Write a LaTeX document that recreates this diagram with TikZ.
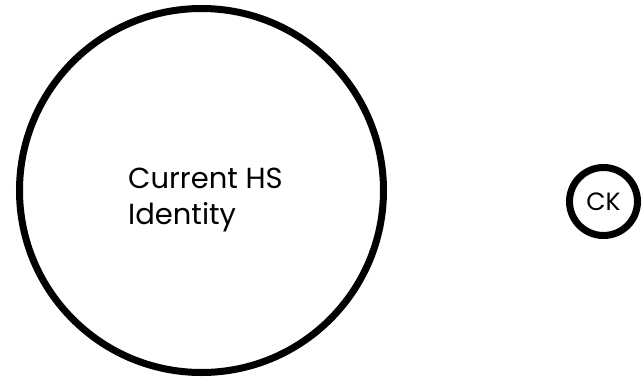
\documentclass[tikz,border=0pt]{standalone}
\usepackage{fontspec}
\setmainfont{Poppins}
\usetikzlibrary{shapes.geometric, positioning}

\begin{document}
\begin{tikzpicture}[
  x=1pt, y=-1pt,
  bigbubble/.style={circle, draw, line width=7pt, minimum size=364pt, inner sep=0pt},
  keybubble/.style={circle, draw, line width=7pt, minimum size=68pt, inner sep=0pt, font=\fontsize{25}{29}\selectfont},
  label text/.style={align=left, font=\fontsize{29}{36}\selectfont, inner sep=0pt},
]
\useasboundingbox (0,0) rectangle (643,381);

% Identity
\node[bigbubble] (identity) at (201.5,190.5) {};
\node[label text, anchor=base west] (identitytext) at (128,224) {Current HS\\Identity};

% Key
\node[keybubble] (ck) at (603.5,201.5) {CK};

\end{tikzpicture}
\end{document}
